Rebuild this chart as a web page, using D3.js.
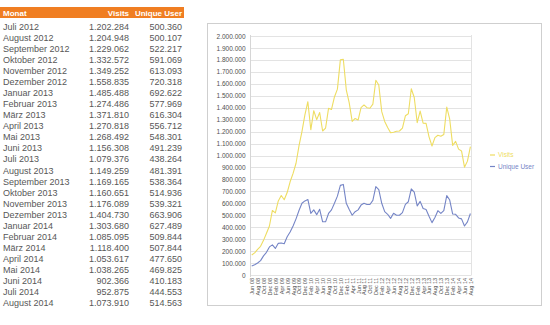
<!DOCTYPE html>
<html>
<head>
<meta charset="utf-8">
<script src="https://cdn.jsdelivr.net/npm/d3@7/dist/d3.min.js"></script>
<style>
  html, body { margin: 0; padding: 0; background: #fff; }
  svg { display: block; }
</style>
</head>
<body>
<svg id="chart" width="550" height="325"></svg>
<script>
// Monthly table (Juli 2012 – August 2014)
const tableMonths = [
  "Juli 2012", "August 2012", "September 2012", "Oktober 2012", "November 2012", "Dezember 2012",
  "Januar 2013", "Februar 2013", "März 2013", "April 2013", "Mai 2013", "Juni 2013",
  "Juli 2013", "August 2013", "September 2013", "Oktober 2013", "November 2013", "Dezember 2013",
  "Januar 2014", "Februar 2014", "März 2014", "April 2014", "Mai 2014", "Juni 2014",
  "Juli 2014", "August 2014"
];
const tableVisits = [
  1202284, 1204948, 1229062, 1332572, 1349252, 1558835,
  1485488, 1274486, 1371810, 1270818, 1268492, 1156308,
  1079376, 1149259, 1169165, 1160651, 1176089, 1404730,
  1303680, 1085095, 1118400, 1053617, 1038265, 902366,
  952875, 1073910
];
const tableUsers = [
  500360, 500107, 522217, 591069, 613093, 720318,
  692622, 577969, 616304, 556712, 548301, 491239,
  438264, 481391, 538364, 514936, 539321, 663906,
  627489, 509844, 507844, 477650, 469825, 410183,
  444553, 514563
];

// Earlier history, Jun 08 – Jun 12 (in thousands)
const earlyVisitsK = [
  167, 185, 215, 240, 290, 350, 410, 540, 520, 620, 665, 630, 690, 780, 850, 935,
  1080, 1200, 1340, 1450, 1215, 1375, 1300, 1360, 1205, 1230, 1395, 1385, 1490, 1555,
  1800, 1805, 1550, 1440, 1285, 1310, 1297, 1400, 1423, 1400, 1395, 1430, 1630, 1590,
  1367, 1285, 1235, 1190, 1195
];
const earlyUsersK = [
  75, 85, 100, 120, 160, 190, 235, 252, 222, 265, 268, 262, 320, 360, 410, 470,
  540, 600, 620, 632, 516, 545, 505, 550, 445, 445, 515, 545, 600, 660,
  750, 758, 600, 548, 500, 530, 545, 585, 600, 590, 590, 625, 740, 715,
  600, 530, 508, 474, 516
];

const chartVisits = earlyVisitsK.map(v => v * 1000).concat(tableVisits);
const chartUsers = earlyUsersK.map(v => v * 1000).concat(tableUsers);

// Month categories Jun 08 … Aug 14
const chartMonths = d3.utcMonth.range(new Date(Date.UTC(2008, 5, 1)), new Date(Date.UTC(2014, 8, 1)));
const yTicks = d3.range(0, 2000001, 100000);

const seriesNames = ["Visits", "Unique User"];
const seriesColors = ["#EEDD62", "#7585C6"];

const de = d3.formatLocale({ decimal: ",", thousands: ".", grouping: [3], currency: ["", "€"] });
const fmt = de.format(",d");
const fmtMonth = d3.utcFormat("%b %y");

const svg = d3.select("#chart");
const FONT = "'Liberation Sans', Arial, sans-serif";

// ---------- table ----------
const table = svg.append("g").attr("font-family", FONT);
table.append("rect")
  .attr("x", 0).attr("y", 7).attr("width", 184).attr("height", 11)
  .attr("fill", "#F07E22");
const head = table.append("g").attr("fill", "#fff").attr("font-size", 8).attr("font-weight", "bold");
head.append("text").attr("x", 3).attr("y", 15.5).text("Monat");
head.append("text").attr("x", 129).attr("y", 15.5).attr("text-anchor", "end").text("Visits");
head.append("text").attr("x", 182).attr("y", 15.5).attr("text-anchor", "end").text("Unique User");

const rowY = d3.scaleLinear().domain([0, tableMonths.length - 1]).range([30, 30 + 11.04 * (tableMonths.length - 1)]);
const rows = table.selectAll("g.row").data(tableMonths).join("g")
  .attr("class", "row")
  .attr("transform", (d, i) => `translate(0,${rowY(i)})`)
  .attr("font-size", 9).attr("fill", "#575757");
rows.append("text").attr("x", 3).text(d => d);
rows.append("text").attr("x", 129).attr("text-anchor", "end").text((d, i) => fmt(tableVisits[i]));
rows.append("text").attr("x", 182).attr("text-anchor", "end").text((d, i) => fmt(tableUsers[i]));

// ---------- chart panel ----------
svg.append("rect")
  .attr("x", 207.5).attr("y", 23.5).attr("width", 334).attr("height", 282)
  .attr("fill", "#fff").attr("stroke", "#cfcfcf");

const plot = { left: 250.5, right: 471.5, top: 36, bottom: 275 };

const x = d3.scalePoint()
  .domain(chartMonths.map(d => +d))
  .range([251.7, 470.4]);
const y = d3.scaleLinear().domain([0, 2000000]).range([plot.bottom, plot.top]);

// gridlines
svg.append("g").selectAll("line").data(yTicks).join("line")
  .attr("x1", plot.left).attr("x2", plot.right)
  .attr("y1", d => Math.round(y(d)) + 0.5).attr("y2", d => Math.round(y(d)) + 0.5)
  .attr("stroke", "#e3e3e3").attr("stroke-width", 1);

// plot frame sides
svg.append("line").attr("x1", plot.left).attr("x2", plot.left)
  .attr("y1", plot.top - 1).attr("y2", plot.bottom + 2).attr("stroke", "#d6d6d6");
svg.append("line").attr("x1", plot.right).attr("x2", plot.right)
  .attr("y1", plot.top - 1).attr("y2", plot.bottom).attr("stroke", "#e3e3e3");

// y axis labels
const yAxis = d3.axisLeft(y).tickValues(yTicks).tickSize(0).tickPadding(5).tickFormat(fmt);
svg.append("g")
  .attr("transform", `translate(${plot.left},0)`)
  .call(yAxis)
  .call(g => g.select(".domain").remove())
  .call(g => g.selectAll("text").attr("font-family", FONT).attr("font-size", 6.5).attr("fill", "#505050"));

// x axis labels: every other month, rotated
const xAxis = d3.axisBottom(x)
  .tickValues(x.domain().filter((d, i) => i % 2 === 0))
  .tickSize(0)
  .tickFormat(d => fmtMonth(new Date(d)));
svg.append("g")
  .attr("transform", `translate(0,${plot.bottom})`)
  .call(xAxis)
  .call(g => g.select(".domain").remove())
  .call(g => g.selectAll("text")
    .attr("font-family", FONT).attr("font-size", 5.5).attr("fill", "#505050")
    .attr("transform", "rotate(-90)")
    .attr("text-anchor", "end")
    .attr("x", -3).attr("y", 0).attr("dy", "0.35em"));

// series lines
const line = d3.line()
  .x((d, i) => x(+chartMonths[i]))
  .y(d => y(d));
[chartVisits, chartUsers].forEach((s, k) => {
  svg.append("path")
    .datum(s)
    .attr("d", line)
    .attr("fill", "none")
    .attr("stroke", seriesColors[k])
    .attr("stroke-width", 1.1)
    .attr("stroke-linejoin", "round");
});

// legend
const legend = svg.append("g").attr("font-family", FONT).attr("font-size", 6.5);
seriesNames.forEach((name, k) => {
  const ly = 155 + k * 11.5;
  legend.append("line")
    .attr("x1", 490).attr("x2", 495).attr("y1", ly).attr("y2", ly)
    .attr("stroke", seriesColors[k]).attr("stroke-width", 1.2);
  legend.append("text")
    .attr("x", 498).attr("y", ly).attr("dy", "0.35em")
    .attr("fill", seriesColors[k]).text(name);
});
</script>
</body>
</html>
